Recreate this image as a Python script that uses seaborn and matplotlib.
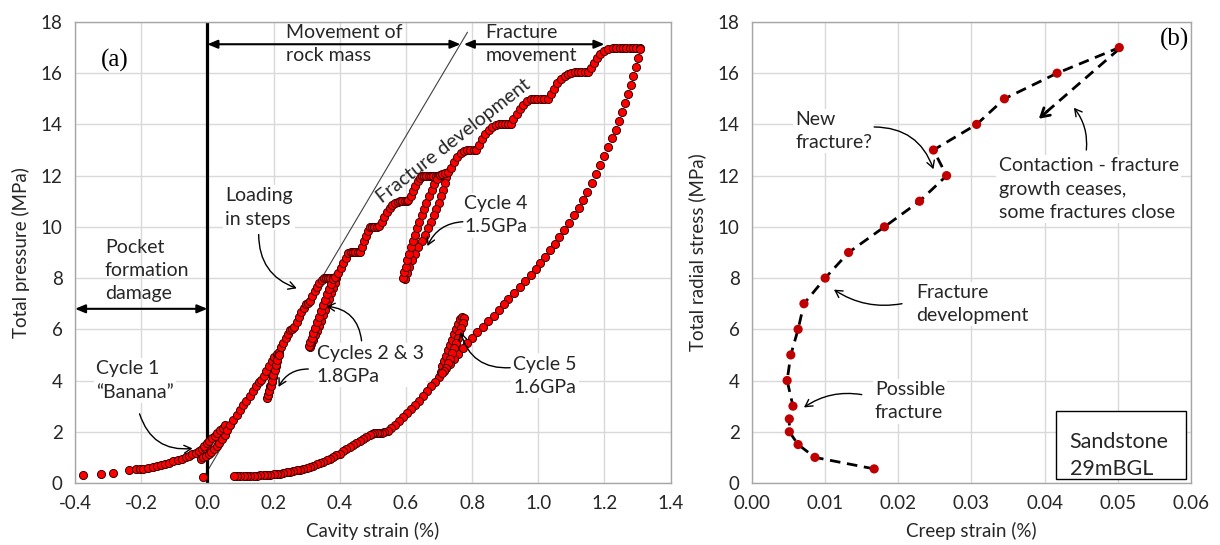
# -*- coding: utf-8 -*-
"""
Cavity strain / creep strain figure: (a) pressure vs cavity strain, (b) radial stress vs creep strain.
"""

import pandas as pd
import matplotlib.pyplot as plt
import seaborn as sns
from matplotlib.patches import Rectangle


# --- 1. data ---

# (a) cycle 1 "banana" tail + loop near zero strain
banana_strain = [-0.377, -0.321, -0.284, -0.237, -0.215, -0.205, -0.195, -0.178, -0.165, -0.153,
                 -0.140, -0.128, -0.115, -0.103, -0.090, -0.078, -0.066, -0.055, -0.045, -0.035,
                 -0.025, -0.015, -0.007, 0.000, -0.012]
banana_pressure = [0.31, 0.35, 0.40, 0.49, 0.55, 0.55, 0.56, 0.58, 0.62, 0.66,
                   0.70, 0.74, 0.79, 0.84, 0.89, 0.94, 1.00, 1.06, 1.12, 1.18,
                   1.25, 1.32, 1.38, 1.45, 0.25]
loop_strain = [-0.020, -0.012, -0.004, 0.004, 0.012, 0.020, 0.028, 0.036, 0.044, 0.052,
               -0.010, -0.002, 0.006, 0.014, 0.022, 0.030, 0.038, 0.046, 0.054]
loop_pressure = [0.95, 1.00, 1.06, 1.13, 1.22, 1.32, 1.44, 1.57, 1.72, 1.88,
                 1.45, 1.55, 1.64, 1.74, 1.84, 1.95, 2.05, 2.15, 2.25]

# (a) loading in steps, 2 -> 8 MPa
load1_strain = [0.058, 0.068, 0.078, 0.088, 0.098, 0.108, 0.118, 0.128, 0.138, 0.148,
                0.156, 0.163, 0.170, 0.178, 0.186, 0.194, 0.202, 0.209, 0.216, 0.223,
                0.230, 0.237, 0.244, 0.251, 0.257, 0.263, 0.270, 0.277, 0.284, 0.291,
                0.298, 0.304, 0.310, 0.317, 0.324, 0.331, 0.338, 0.345, 0.352, 0.358,
                0.365, 0.372, 0.379, 0.386]
load1_pressure = [2.07, 2.27, 2.47, 2.66, 2.85, 3.03, 3.22, 3.41, 3.60, 3.79,
                  3.95, 4.02, 4.18, 4.37, 4.56, 4.75, 4.92, 5.02, 5.12, 5.30,
                  5.48, 5.65, 5.82, 5.97, 6.02, 6.10, 6.30, 6.50, 6.68, 6.85,
                  6.98, 7.03, 7.12, 7.30, 7.48, 7.66, 7.82, 7.94, 8.00, 8.00,
                  8.00, 8.00, 8.00, 8.00]

# (a) loading 8 -> 12 MPa
load2_strain = [0.395, 0.403, 0.411, 0.419, 0.426, 0.433, 0.440, 0.447, 0.454, 0.460,
                0.466, 0.472, 0.478, 0.484, 0.491, 0.498, 0.505, 0.512, 0.519,
                0.527, 0.535, 0.543, 0.551, 0.559, 0.567, 0.575, 0.582,
                0.589, 0.596, 0.603, 0.607,
                0.614, 0.621, 0.628, 0.635, 0.642, 0.648,
                0.655, 0.662, 0.669, 0.676, 0.683, 0.690, 0.697, 0.704, 0.711, 0.718]
load2_pressure = [8.20, 8.40, 8.60, 8.80, 8.97, 9.00, 9.00, 9.00, 9.00, 9.03,
                  9.22, 9.43, 9.63, 9.82, 9.98, 10.00, 10.00, 10.00, 10.02,
                  10.20, 10.40, 10.58, 10.74, 10.86, 10.94, 10.98, 11.00,
                  11.00, 11.00, 11.00, 11.03,
                  11.20, 11.40, 11.60, 11.78, 11.92, 11.99,
                  12.00, 12.00, 12.00, 12.00, 12.00, 12.00, 12.00, 12.00, 12.00, 12.00]

# (a) loading 12 -> 17 MPa
load3_strain = [0.735, 0.745, 0.755, 0.765, 0.775, 0.785, 0.795, 0.805, 0.812,
                0.820, 0.830, 0.840, 0.850, 0.860, 0.871, 0.880, 0.890, 0.900, 0.910, 0.917,
                0.925, 0.935, 0.945, 0.955, 0.966, 0.977, 0.987, 0.997, 1.007, 1.017, 1.028,
                1.037, 1.047, 1.058, 1.069, 1.080, 1.090, 1.099, 1.110, 1.120, 1.130, 1.140, 1.150,
                1.158, 1.167, 1.177, 1.188, 1.200, 1.212, 1.225, 1.236,
                1.246, 1.256, 1.266, 1.276, 1.286, 1.296, 1.307]
load3_pressure = [12.30, 12.52, 12.72, 12.88, 12.97, 13.00, 13.00, 13.00, 13.00,
                  13.20, 13.42, 13.62, 13.78, 13.90, 13.98, 14.00, 14.00, 14.00, 14.00, 14.00,
                  14.20, 14.42, 14.60, 14.76, 14.90, 14.98, 15.00, 15.00, 15.00, 15.00, 15.00,
                  15.20, 15.40, 15.60, 15.77, 15.90, 15.98, 16.02, 16.03, 16.03, 16.03, 16.03, 16.03,
                  16.20, 16.40, 16.58, 16.75, 16.88, 16.95, 16.99, 17.00,
                  17.00, 17.00, 17.00, 17.00, 17.00, 17.00, 17.00]

# (a) unload / reload cycles
cyc2_strain = [0.214, 0.210, 0.206, 0.202, 0.198, 0.194, 0.190, 0.186, 0.182, 0.179,
               0.183, 0.187, 0.191, 0.195, 0.199, 0.203, 0.207, 0.211, 0.215]
cyc2_pressure = [4.95, 4.75, 4.55, 4.35, 4.15, 3.95, 3.77, 3.60, 3.44, 3.31,
                 3.42, 3.60, 3.80, 4.00, 4.20, 4.40, 4.60, 4.80, 5.00]
cyc3_strain = [0.390, 0.385, 0.380, 0.374, 0.368, 0.362, 0.356, 0.350, 0.344, 0.338,
               0.332, 0.326, 0.320, 0.314, 0.310,
               0.306, 0.310, 0.315, 0.320, 0.326, 0.332, 0.338, 0.344, 0.350, 0.356,
               0.362, 0.368, 0.374, 0.380, 0.386]
cyc3_pressure = [8.00, 7.82, 7.62, 7.42, 7.20, 6.98, 6.76, 6.54, 6.34, 6.14,
                 5.94, 5.76, 5.60, 5.44, 5.32,
                 5.35, 5.50, 5.67, 5.85, 6.05, 6.27, 6.49, 6.71, 6.93, 7.15,
                 7.37, 7.58, 7.78, 7.95, 8.05]
cyc4_strain = [0.722, 0.718, 0.713, 0.707, 0.700, 0.692, 0.684, 0.675, 0.666, 0.657,
               0.648, 0.638, 0.628, 0.619, 0.610, 0.602, 0.596,
               0.592, 0.595, 0.599, 0.604, 0.609, 0.615, 0.621, 0.627, 0.634, 0.641,
               0.648, 0.655, 0.662, 0.670, 0.678, 0.686, 0.694, 0.702, 0.710, 0.718, 0.726]
cyc4_pressure = [11.95, 11.70, 11.45, 11.20, 10.95, 10.70, 10.45, 10.20, 9.95, 9.70,
                 9.45, 9.20, 8.95, 8.70, 8.45, 8.20, 7.98,
                 8.00, 8.22, 8.45, 8.70, 8.95, 9.20, 9.45, 9.70, 9.95, 10.20,
                 10.45, 10.70, 10.95, 11.20, 11.45, 11.68, 11.88, 12.02, 12.08, 12.12, 12.15]
cyc5_strain = [0.705, 0.710, 0.716, 0.722, 0.728, 0.734, 0.740, 0.746, 0.752, 0.758, 0.764, 0.769,
               0.775, 0.771, 0.766, 0.761, 0.756, 0.751, 0.746, 0.740, 0.734, 0.728, 0.722, 0.716, 0.710]
cyc5_pressure = [4.35, 4.55, 4.76, 4.97, 5.18, 5.39, 5.60, 5.81, 6.02, 6.22, 6.40, 6.50,
                 6.45, 6.26, 6.06, 5.86, 5.66, 5.46, 5.26, 5.06, 4.86, 4.67, 4.50, 4.38, 4.30]

# (a) final unloading from 17 MPa
unload_strain = [1.308, 1.302, 1.295, 1.287, 1.279, 1.271, 1.262, 1.253, 1.244, 1.235,
                 1.222, 1.210, 1.199, 1.188, 1.174, 1.161, 1.148, 1.135, 1.122, 1.108,
                 1.094, 1.079, 1.064, 1.050, 1.035, 1.020, 1.005, 0.992, 0.978, 0.961,
                 0.944, 0.927, 0.910, 0.895, 0.880, 0.866, 0.848, 0.832, 0.815, 0.799,
                 0.785, 0.771, 0.757, 0.744, 0.732, 0.719,
                 0.700, 0.688, 0.676, 0.664, 0.652, 0.640, 0.628, 0.616, 0.604, 0.592,
                 0.580, 0.568, 0.556, 0.545, 0.535, 0.527, 0.520, 0.513, 0.505, 0.497,
                 0.490, 0.480, 0.470, 0.460, 0.450, 0.440, 0.430, 0.420, 0.410, 0.400,
                 0.390, 0.380, 0.370, 0.360, 0.350, 0.340, 0.330, 0.320, 0.310, 0.300,
                 0.290, 0.280, 0.270, 0.260, 0.250, 0.240, 0.230, 0.220, 0.210, 0.200,
                 0.190, 0.180, 0.170, 0.160, 0.150, 0.140, 0.130, 0.120, 0.110, 0.100,
                 0.090, 0.080]
unload_pressure = [16.93, 16.60, 16.25, 15.90, 15.55, 15.20, 14.85, 14.50, 14.15, 13.80,
                   13.45, 13.10, 12.75, 12.40, 12.05, 11.70, 11.38, 11.06, 10.75, 10.45,
                   10.15, 9.87, 9.60, 9.34, 9.08, 8.83, 8.59, 8.35, 8.12, 7.89,
                   7.66, 7.43, 7.20, 6.97, 6.75, 6.53, 6.31, 6.10, 5.89, 5.68,
                   5.47, 5.26, 5.05, 4.85, 4.65, 4.45,
                   4.15, 3.96, 3.77, 3.58, 3.40, 3.22, 3.05, 2.88, 2.72, 2.56,
                   2.41, 2.27, 2.14, 2.04, 1.98, 1.96, 1.95, 1.95, 1.94, 1.92,
                   1.88, 1.81, 1.73, 1.65, 1.57, 1.48, 1.39, 1.31, 1.23, 1.15,
                   1.08, 1.01, 0.95, 0.89, 0.83, 0.78, 0.73, 0.68, 0.64, 0.60,
                   0.56, 0.52, 0.49, 0.46, 0.43, 0.41, 0.39, 0.37, 0.35, 0.34,
                   0.33, 0.32, 0.31, 0.30, 0.29, 0.29, 0.28, 0.28, 0.28, 0.27,
                   0.27, 0.26]

# (b) creep strain (%) at each pressure step
creep_strain = [0.0167, 0.0086, 0.0063, 0.0051, 0.0051, 0.0056, 0.0048, 0.0053, 0.0063, 0.0071,
                0.0100, 0.0132, 0.0181, 0.0229, 0.0266, 0.0248, 0.0307, 0.0345, 0.0417, 0.0502]
radial_stress = [0.55, 1.0, 1.5, 2.0, 2.5, 3.0, 4.0, 5.0, 6.0, 7.0,
                 8.0, 9.0, 10.0, 11.0, 12.0, 13.0, 14.0, 15.0, 16.0, 17.0]

TXT = '#262626'
FS = 14


# --- 2. styling helpers ---

def apply_style(ax, xlabel, ylabel):
    ax.grid(True, color='#d9d9d9', lw=1.0)
    ax.set_axisbelow(True)
    ax.set_xlabel(xlabel, fontsize=13.5, color=TXT, labelpad=7)
    ax.set_ylabel(ylabel, fontsize=13.5, color=TXT, labelpad=8)
    ax.tick_params(axis='both', direction='out', length=5, width=1, color='#a6a6a6',
                   labelsize=13.5, labelcolor=TXT, pad=4)
    for spine in ax.spines.values():
        spine.set_visible(True)
        spine.set_color('#a6a6a6')
        spine.set_linewidth(1.0)


def note(ax, x, y, s, white=False, **kw):
    opts = dict(fontsize=FS, color=TXT, ha='left', va='center', linespacing=1.45, zorder=2)
    if white:
        opts['bbox'] = dict(fc='white', ec='none', pad=1.5)
    opts.update(kw)
    ax.text(x, y, s, **opts)


def curved_arrow(ax, start, end, rad):
    ax.annotate('', xy=end, xytext=start, zorder=4,
                arrowprops=dict(arrowstyle='->,head_length=0.5,head_width=0.28', lw=1.0,
                                color='black', shrinkA=0, shrinkB=0,
                                connectionstyle=f'arc3,rad={rad}'))


def span_arrow(ax, x0, x1, y):
    ax.annotate('', xy=(x1, y), xytext=(x0, y), zorder=4,
                arrowprops=dict(arrowstyle='<|-|>,head_length=0.6,head_width=0.25', lw=1.5,
                                color='black', shrinkA=0, shrinkB=0))


# --- 3. panels ---

def plot_cavity_strain(ax):
    segments = [(banana_strain, banana_pressure), (loop_strain, loop_pressure),
                (load1_strain, load1_pressure), (cyc2_strain, cyc2_pressure),
                (cyc3_strain, cyc3_pressure), (load2_strain, load2_pressure),
                (cyc4_strain, cyc4_pressure), (load3_strain, load3_pressure),
                (unload_strain, unload_pressure), (cyc5_strain, cyc5_pressure)]
    df = pd.concat([pd.DataFrame({'strain': sx, 'pressure': sy}) for sx, sy in segments],
                   ignore_index=True)

    ax.plot([-0.01, 0.786], [0.25, 17.6], color='#404040', lw=0.8, zorder=2.2)
    ax.axvline(0, color='black', lw=2.3, zorder=2.4)
    sns.scatterplot(data=df, x='strain', y='pressure', color='#ff0000', edgecolor='#3a0000',
                    linewidth=0.7, s=34, ax=ax, zorder=3, legend=False)

    ax.set_xlim(-0.4, 1.4)
    ax.set_ylim(0, 18)
    ax.set_xticks([-0.4, -0.2, 0.0, 0.2, 0.4, 0.6, 0.8, 1.0, 1.2, 1.4])
    ax.set_xticklabels([f'{v:.1f}' for v in ax.get_xticks()])
    ax.set_yticks(range(0, 19, 2))
    apply_style(ax, 'Cavity strain (%)', 'Total pressure (MPa)')

    span_arrow(ax, -0.4, 0.0, 6.8)
    span_arrow(ax, 0.0, 0.765, 17.13)
    span_arrow(ax, 0.775, 1.2, 17.13)

    ax.text(-0.28, 16.5, '(a)', fontsize=18, family='Liberation Serif', color='black',
            ha='center', va='center')
    note(ax, 0.237, 17.13, 'Movement of\nrock mass')
    note(ax, 0.841, 17.13, 'Fracture\nmovement')
    note(ax, -0.31, 8.3, 'Pocket\nformation\ndamage')
    note(ax, 0.054, 10.76, 'Loading\nin steps', white=True)
    note(ax, -0.337, 4.0, 'Cycle 1\n\u201cBanana\u201d', white=True)
    note(ax, 0.33, 4.61, 'Cycles 2 & 3\n1.8GPa', white=True)
    note(ax, 0.776, 10.45, 'Cycle 4\n1.5GPa', white=True)
    note(ax, 0.925, 4.19, 'Cycle 5\n1.6GPa', white=True)
    note(ax, 0.745, 13.35, 'Fracture development', ha='center', rotation=38)

    curved_arrow(ax, (0.155, 9.7), (0.27, 7.6), 0.35)
    curved_arrow(ax, (-0.205, 2.7), (-0.045, 1.35), 0.4)
    curved_arrow(ax, (0.305, 4.45), (0.215, 3.75), 0.3)
    curved_arrow(ax, (0.466, 5.55), (0.36, 6.9), 0.4)
    curved_arrow(ax, (0.772, 10.2), (0.665, 9.25), 0.3)
    curved_arrow(ax, (0.915, 4.5), (0.765, 5.9), -0.4)


def plot_creep_strain(ax):
    df = pd.DataFrame({'creep': creep_strain, 'stress': radial_stress})
    dash = (0, (3.8, 2.4))
    sns.lineplot(data=df, x='creep', y='stress', sort=False, estimator=None, color='black',
                 lw=2.0, ax=ax, zorder=2)
    ax.lines[-1].set_linestyle(dash)
    ax.plot([0.0502, 0.0397], [16.95, 14.35], color='black', lw=2.0, ls=dash, zorder=2)
    ax.annotate('', xy=(0.0392, 14.22), xytext=(0.0404, 14.52), zorder=2,
                arrowprops=dict(arrowstyle='->,head_length=0.6,head_width=0.35', lw=2.0,
                                color='black', shrinkA=0, shrinkB=0))
    sns.scatterplot(data=df, x='creep', y='stress', color='#c00000', edgecolor='none',
                    s=44, ax=ax, zorder=3, legend=False)

    ax.set_xlim(0, 0.06)
    ax.set_ylim(0, 18)
    ax.set_xticks([0.0, 0.01, 0.02, 0.03, 0.04, 0.05, 0.06])
    ax.set_xticklabels([f'{v:.2f}' for v in ax.get_xticks()])
    ax.set_yticks(range(0, 19, 2))
    apply_style(ax, 'Creep strain (%)', 'Total radial stress (MPa)')

    ax.text(0.0577, 17.3, '(b)', fontsize=18, family='Liberation Serif', color='black',
            ha='center', va='center')
    note(ax, 0.0059, 13.75, 'New\nfracture?', white=True)
    note(ax, 0.0337, 11.47, 'Contaction - fracture\ngrowth ceases,\nsome fractures close',
         white=True)
    note(ax, 0.0225, 6.98, 'Fracture\ndevelopment', white=True)
    note(ax, 0.0168, 3.19, 'Possible\nfracture', white=True)

    ax.add_patch(Rectangle((0.0416, 0.14), 0.0177, 2.67, fc='white', ec='black', lw=1.0,
                           zorder=2))
    note(ax, 0.0434, 1.06, 'Sandstone\n29mBGL', fontsize=15.5, zorder=2.5)

    curved_arrow(ax, (0.0167, 13.9), (0.0248, 12.25), -0.35)
    curved_arrow(ax, (0.0457, 13.0), (0.0440, 14.65), 0.2)
    curved_arrow(ax, (0.0205, 7.0), (0.0112, 7.55), -0.2)
    curved_arrow(ax, (0.0150, 3.45), (0.0071, 2.95), 0.2)


# --- 4. main ---

if __name__ == '__main__':
    sns.set_style('white')
    plt.rcParams['font.family'] = ['Lato', 'DejaVu Sans']

    fig = plt.figure(figsize=(12.2, 5.45), dpi=100)
    ax_a = fig.add_axes([0.0615, 0.1138, 0.4882, 0.8459])
    ax_b = fig.add_axes([0.6164, 0.1138, 0.3598, 0.8459])

    plot_cavity_strain(ax_a)
    plot_creep_strain(ax_b)

    fig.savefig('out.png', dpi=100)
    plt.close(fig)
